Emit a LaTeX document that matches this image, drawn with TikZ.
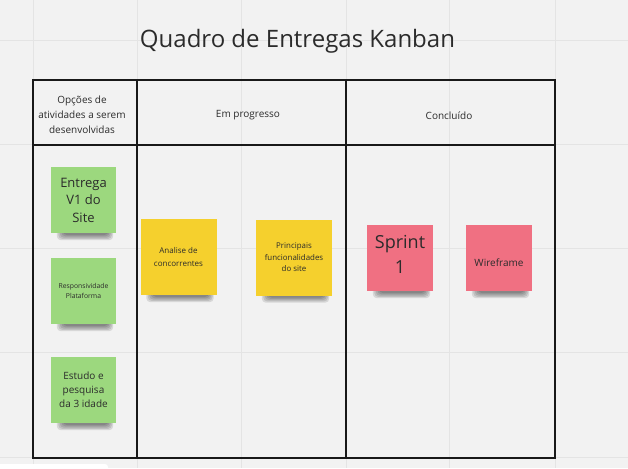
\documentclass[tikz,border=0pt]{standalone}
\usepackage{fontspec}
\setmainfont{Open Sans}
\usetikzlibrary{calc}
\definecolor{bgc}{HTML}{F2F2F2}
\definecolor{gridc}{HTML}{E4E4E4}
\definecolor{notegreen}{RGB}{156,216,126}
\definecolor{noteyellow}{RGB}{245,208,45}
\definecolor{notepink}{RGB}{240,112,130}
\definecolor{inkc}{HTML}{2B2B2B}
\pgfdeclarelayer{shadowlayer}
\pgfsetlayers{shadowlayer,main}
\tikzset{
  tableline/.style={draw=black!90, line width=1.2pt},
  gridline/.style={draw=gridc, line width=0.8pt},
  headtext/.style={align=center, text=inkc, font=\fontsize{10}{15}\selectfont, inner sep=0pt},
  note/.style={inner sep=0pt, align=center, text=inkc},
  notelabel/.style={inner sep=0pt, align=center, text=inkc},
  greennote/.style={note, fill=notegreen, minimum width=65pt, minimum height=66pt},
  yellownote/.style={note, fill=noteyellow, minimum width=76pt, minimum height=76pt},
  pinknote/.style={note, fill=notepink, minimum width=66pt, minimum height=66pt},
  shadowpiece/.style={fill=black, opacity=0.11, rounded corners=4pt}
}
\newcommand\noteshadow[1]{%
  \begin{pgfonlayer}{shadowlayer}
    \foreach \k in {0,1,2,3,4}{
      \fill[shadowpiece] ($(#1.south west)+(6+1.5*\k,-5)$) rectangle ($(#1.south east)+(-3-1.2*\k,7-1.3*\k)$);
    }
  \end{pgfonlayer}}
\begin{document}
\begin{tikzpicture}[x=1pt,y=-1pt]
\useasboundingbox (0,0) rectangle (628,468);
\begin{pgfonlayer}{shadowlayer}
\fill[bgc] (0,0) rectangle (628,468);
\foreach \x in {241,449} \draw[gridline] (\x,0) -- (\x,468);
\foreach \x in {33,137,346,555} \draw[gridline] (\x,0) -- (\x,468);
\foreach \y in {40,144,248,352,457} \draw[gridline] (0,\y) -- (628,\y);
\fill[white, rounded corners=3pt] (-4,464) rectangle (108,472);
\end{pgfonlayer}

% title
\node[text=inkc, font=\fontsize{24}{28}\selectfont, inner sep=0pt] (title) at (297.5,41) {Quadro de Entregas Kanban};

% table
\draw[tableline] (33,80) rectangle (555,458);
\draw[tableline] (33,145) -- (555,145);
\draw[tableline] (137,80) -- (137,458);
\draw[tableline] (346,80) -- (346,458);

\node[headtext] (h1) at (82,115) {Opções de\\atividades a serem\\desenvolvidas};
\node[headtext] (h2) at (248,115.5) {Em progresso};
\node[headtext] (h3) at (449,115.5) {Concluído};

% notes
\node[greennote, font=\fontsize{13}{17.5}\selectfont] (g1) at (83.5,200) {Entrega\\V1 do\\Site};
\node[greennote, font=\fontsize{6.8}{9.5}\selectfont] (g2) at (83.5,291) {Responsividade\\Plataforma};
\node[greennote, font=\fontsize{10}{14}\selectfont] (g3) at (83.5,390) {Estudo e\\pesquisa\\da 3 idade};
\node[yellownote, font=\fontsize{8}{13}\selectfont] (y1) at (178.5,257) {Analise de\\concorrentes};
\node[yellownote, font=\fontsize{7.9}{11.5}\selectfont] (y2) at (294,257.5) {Principais\\funcionalidades\\do site};
\node[pinknote] (p1) at (400,258) {};
\node[notelabel, font=\fontsize{18}{25}\selectfont] (p1t) at (400,254.5) {Sprint\\1};
\node[pinknote] (p2) at (499,258) {};
\node[notelabel, font=\fontsize{10}{12}\selectfont] (p2t) at (499,263) {Wireframe};

\noteshadow{g1}
\noteshadow{g2}
\noteshadow{g3}
\noteshadow{y1}
\noteshadow{y2}
\noteshadow{p1}
\noteshadow{p2}
\end{tikzpicture}
\end{document}
